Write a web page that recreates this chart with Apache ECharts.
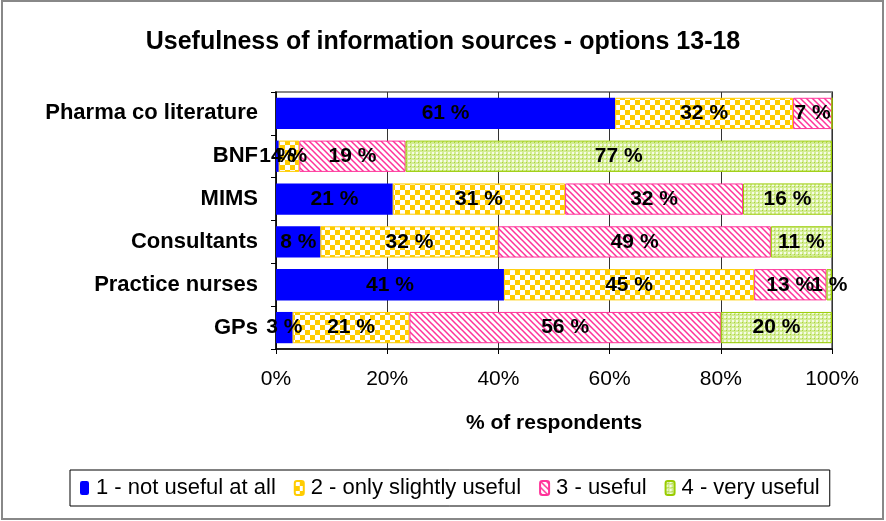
<!DOCTYPE html>
<html>
<head>
<meta charset="utf-8">
<script src="https://cdn.jsdelivr.net/npm/echarts@6/dist/echarts.min.js"></script>
<style>
  html, body { margin: 0; padding: 0; background: #fff; }
  #chart { width: 886px; height: 521px; }
</style>
</head>
<body>
<div id="chart"></div>
<script>
// categories, top to bottom as in the picture
var sources = ["Pharma co literature", "BNF", "MIMS", "Consultants", "Practice nurses", "GPs"];
var seriesNames = ["1 - not useful at all", "2 - only slightly useful", "3 - useful", "4 - very useful"];
// % of respondents per rating
var notUseful      = [61, 0.5, 21, 8, 41, 3];
var slightlyUseful = [32, 3.7, 31, 32, 45, 21];
var useful         = [7, 19.1, 32, 49, 13, 56];
var veryUseful     = [0, 76.7, 16, 11, 1, 20];
var xTicks = [0, 20, 40, 60, 80, 100];

var FONT = "Liberation Sans, Arial";

// fill patterns
function makeTile(w, h, draw) {
    var c = document.createElement("canvas");
    c.width = w; c.height = h;
    draw(c.getContext("2d"));
    return c;
}
var checker = makeTile(10, 10, function (g) {
    g.fillStyle = "#FFCC00"; g.fillRect(0, 0, 10, 10);
    g.fillStyle = "#FFFFFF"; g.fillRect(0, 0, 5, 5); g.fillRect(5, 5, 5, 5);
});
var hatch = makeTile(6, 6, function (g) {
    g.fillStyle = "#FFFFFF"; g.fillRect(0, 0, 6, 6);
    g.strokeStyle = "#FF3399"; g.lineWidth = 1.5;
    g.beginPath();
    g.moveTo(-1, -1); g.lineTo(7, 7);
    g.moveTo(-4, 2); g.lineTo(4, 10);
    g.moveTo(2, -4); g.lineTo(10, 4);
    g.stroke();
});
var dots = makeTile(4, 4, function (g) {
    g.fillStyle = "#D3EC94"; g.fillRect(0, 0, 4, 4);
    g.fillStyle = "#F6FCE6"; g.fillRect(0, 0, 2, 2);
    g.fillStyle = "#A9D43A"; g.fillRect(2, 2, 1, 1);
});

var fills = [
    "#0000FF",
    { image: checker, repeat: "repeat" },
    { image: hatch, repeat: "repeat" },
    { image: dots, repeat: "repeat" }
];
var borders = ["#0000FF", "#FFCC00", "#FF3399", "#99CC00"];
var values = [notUseful, slightlyUseful, useful, veryUseful];

var series = [];
for (var i = 0; i < 4; i++) {
    series.push({
        name: seriesNames[i],
        type: "bar",
        stack: "total",
        barCategoryGap: "27%",
        data: values[i],
        itemStyle: { color: fills[i], borderColor: borders[i], borderWidth: i == 0 ? 0 : 1 },
        label: {
            show: true,
            position: "inside",
            color: "#000",
            fontFamily: FONT,
            fontWeight: "bold",
            fontSize: 21,
            formatter: function (p) {
                if (p.value <= 0) return "";
                return Math.round(p.value) + " %";
            }
        },
        emphasis: { disabled: true }
    });
}

var chart = echarts.init(document.getElementById("chart"));
chart.setOption({
    animation: false,
    backgroundColor: "#fff",
    title: {
        text: "Usefulness of information sources - options 13-18",
        left: "center",
        top: 25,
        textStyle: { fontFamily: FONT, fontWeight: "bold", fontSize: 25, color: "#000" }
    },
    graphic: [{
        type: "rect",
        shape: { x: 2, y: 1, width: 881, height: 518 },
        style: { fill: null, stroke: "#888", lineWidth: 2 },
        silent: true
    }],
    grid: {
        left: 276, right: 54, top: 92, bottom: 172,
        show: true, borderColor: "#888", borderWidth: 2, backgroundColor: "transparent"
    },
    legend: {
        data: seriesNames,
        left: 70, top: 470,
        width: 780,
        padding: [7, 10, 7, 10],
        itemGap: 18,
        itemWidth: 9, itemHeight: 14,
        borderColor: "#000", borderWidth: 1,
        textStyle: { fontFamily: FONT, fontSize: 22, color: "#000", padding: [0, 0, 0, 2] },
        selectedMode: false
    },
    xAxis: {
        type: "value",
        min: 0, max: 100, interval: 20,
        name: "% of respondents",
        nameLocation: "middle",
        nameGap: 64,
        nameTextStyle: { fontFamily: FONT, fontWeight: "bold", fontSize: 21, color: "#000" },
        axisLine: { show: true, lineStyle: { color: "#000", width: 1.5 } },
        axisTick: { show: true, length: 5, inside: false, lineStyle: { color: "#000" } },
        axisLabel: {
            fontFamily: FONT, fontSize: 21, color: "#000", margin: 20,
            formatter: function (v) { return xTicks.indexOf(v) >= 0 ? v + "%" : ""; }
        },
        splitLine: { show: true, lineStyle: { color: "#333", width: 1 } }
    },
    yAxis: {
        type: "category",
        inverse: true,
        data: sources,
        axisLine: { show: true, lineStyle: { color: "#000", width: 1.5 } },
        axisTick: { show: true, length: 5, lineStyle: { color: "#000" } },
        axisLabel: {
            fontFamily: FONT, fontWeight: "bold", fontSize: 22, color: "#000", margin: 18
        },
        splitLine: { show: false }
    },
    series: series
});
</script>
</body>
</html>
